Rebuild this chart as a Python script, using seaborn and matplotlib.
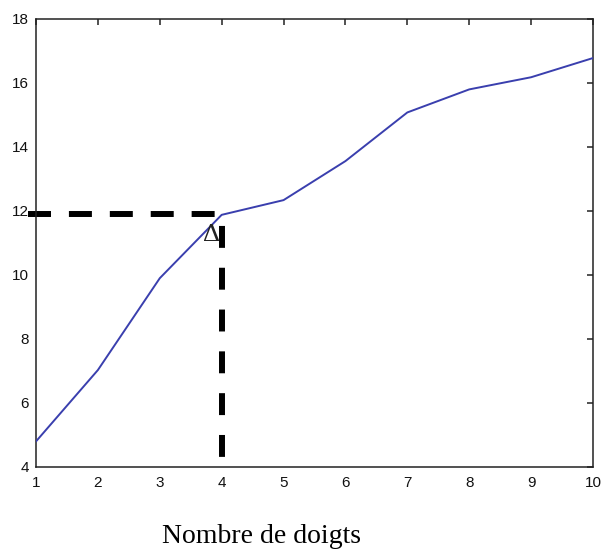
import matplotlib
matplotlib.use("Agg")
import matplotlib.pyplot as plt
import seaborn as sns
import pandas as pd

# Finger count vs. measured value
fingers = [1, 2, 3, 4, 5, 6, 7, 8, 9, 10]
values = [4.8, 7.03, 9.9, 11.88, 12.34, 13.56, 15.08, 15.8, 16.18, 16.78]

# Reference point marked with the dashed guide
knee_x = 4
knee_y = 11.9
knee_label = "Δ"

x_ticks = [1, 2, 3, 4, 5, 6, 7, 8, 9, 10]
y_ticks = [4, 6, 8, 10, 12, 14, 16, 18]
x_label = "Nombre de doigts"

sns.set_style("white")
plt.rcParams["font.family"] = ["Liberation Sans", "DejaVu Sans"]

fig = plt.figure(figsize=(6.06, 5.52), dpi=100)
ax = fig.add_axes([36 / 606, 1 - 467 / 552, (593 - 36) / 606, (467 - 19) / 552])

df = pd.DataFrame({"fingers": fingers, "value": values})
sns.lineplot(data=df, x="fingers", y="value", ax=ax, color="#3a3fae",
             linewidth=1.4, zorder=3)

# Dashed guide lines to the knee point
guide_lw = 4.3
ax.plot([0.87, knee_x], [knee_y, knee_y], color="black", linewidth=guide_lw,
        linestyle=(0, (3.85, 3.0)), dash_capstyle="butt",
        clip_on=False, zorder=2)
ax.plot([knee_x, knee_x], [knee_y, 4.05], color="black", linewidth=guide_lw,
        linestyle=(5.0, (3.67, 3.33)), dash_capstyle="butt",
        clip_on=False, zorder=2)
ax.text(3.84, 11.25, knee_label, fontsize=19,
        family=["Liberation Serif", "DejaVu Serif"],
        ha="center", va="center", color="#222222", zorder=4)

ax.set_xlim(1, 10)
ax.set_ylim(4, 18)
ax.set_xticks(x_ticks)
ax.set_yticks(y_ticks)
ax.set_xlabel("")
ax.set_ylabel("")

for side in ["left", "right", "top", "bottom"]:
    ax.spines[side].set_visible(True)
    ax.spines[side].set_color("#222222")
    ax.spines[side].set_linewidth(1.1)

ax.tick_params(axis="both", direction="in", length=4, width=1.1,
               color="#222222", labelsize=11, labelcolor="#111111",
               top=True, right=True)
ax.tick_params(axis="x", pad=6.5)
ax.tick_params(axis="y", pad=5)

fig.text(262 / 606, 1 - 543 / 552, x_label, fontsize=20,
         family=["Liberation Serif", "DejaVu Serif"], ha="center", va="baseline",
         color="black")

fig.savefig("out.png", dpi=100, facecolor="white")
